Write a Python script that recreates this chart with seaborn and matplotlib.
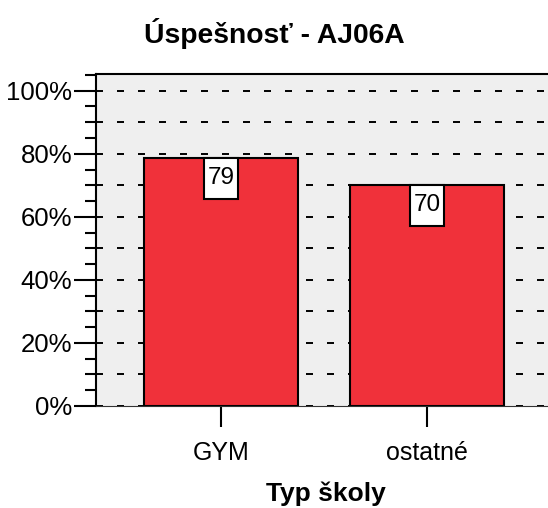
import pandas as pd
import numpy as np
import seaborn as sns
import matplotlib.pyplot as plt
from matplotlib.path import Path
from matplotlib.ticker import MultipleLocator, FuncFormatter

# data
skupiny = ['GYM', 'ostatné']
uspesnost = [78.8, 70.2]
popisky = ['79', '70']

df = pd.DataFrame({'Typ školy': skupiny, 'Úspešnosť': uspesnost})

sns.set_style('white')
plt.rcParams['font.family'] = ['Liberation Sans', 'DejaVu Sans']
plt.rcParams['text.color'] = 'black'
plt.rcParams['xtick.color'] = 'black'
plt.rcParams['ytick.color'] = 'black'
plt.rcParams['axes.labelcolor'] = 'black'

fig = plt.figure(figsize=(5.48, 5.08), dpi=100)
ax = fig.add_axes([0.175, 0.2008, 0.83, 0.6535])
ax.set_facecolor('#efefef')

sns.barplot(data=df, x='Typ školy', y='Úspešnosť', color='#f0313a',
            saturation=1, width=0.75, edgecolor='black', linewidth=1.5, ax=ax)

ax.set_xlim(-0.606, 1.6)
ax.set_ylim(0, 105.3)
ax.yaxis.set_major_locator(MultipleLocator(20))
ax.yaxis.set_minor_locator(MultipleLocator(5))
ax.yaxis.set_major_formatter(FuncFormatter(lambda v, p: f'{v:.0f}%'))

# prerusovana mriezka kazdych 10 %
for g in np.arange(0, 101, 10):
    ax.axhline(g, color='black', linewidth=1.4, linestyle=(0, (3.6, 7.2)), zorder=0.5)

ax.tick_params(axis='y', which='major', length=16, width=1.5, direction='out',
               left=True, labelsize=18.5, pad=1)
ax.tick_params(axis='y', which='minor', length=8, width=1.5, direction='out',
               left=True)
ax.tick_params(axis='x', length=15, width=1.5, direction='out', bottom=True,
               labelsize=18, pad=10)

ax.spines['right'].set_visible(False)
for s in ['left', 'top']:
    ax.spines[s].set_linewidth(1.5)
    ax.spines[s].set_color('black')
ax.spines['bottom'].set_linewidth(0.8)
ax.spines['bottom'].set_color('#333333')


# biely ramcek okolo hodnoty, vodorovne uzsi okraj ako zvislo
def ramcek(x0, y0, w, h, mutation_size):
    px = 0.15 * mutation_size
    py = 0.38 * mutation_size
    return Path([(x0 - px, y0 - py), (x0 + w + px, y0 - py),
                 (x0 + w + px, y0 + h + py), (x0 - px, y0 + h + py),
                 (x0 - px, y0 - py)], closed=True)


for i, (v, t) in enumerate(zip(uspesnost, popisky)):
    ax.annotate(t, xy=(i, v), xytext=(0, -7.0), textcoords='offset points',
                ha='center', va='top', fontsize=17.5, zorder=5,
                bbox=dict(boxstyle=ramcek, fc='white', ec='black', lw=1.5))

ax.set_ylabel('')
ax.set_xlabel('Typ školy', fontsize=19, fontweight='bold')
ax.xaxis.label.set_va('baseline')
ax.xaxis.set_label_coords(326 / 548, (508 - 501) / 508, transform=fig.transFigure)
fig.text(0.5, 1 - 43 / 508, 'Úspešnosť - AJ06A', ha='center', va='baseline',
         fontsize=20.3, fontweight='bold')

fig.savefig('out.png', dpi=100)
